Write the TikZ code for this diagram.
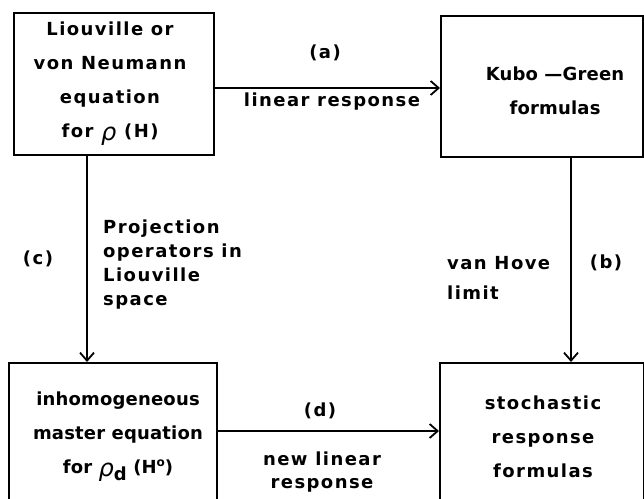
\documentclass[tikz,border=0pt]{standalone}
\usepackage{fontspec}
\setmainfont{DejaVu Sans}
\newfontfamily\lettering{DejaVu Sans Bold}[LetterSpace=8]
\newfontfamily\tightlettering{DejaVu Sans Bold}[LetterSpace=1]
\newfontfamily\rhofont{DejaVu Sans}
\newcommand{\myrho}{{\rhofont\itshape\fontsize{24}{24}\selectfont ρ}}
\usetikzlibrary{arrows.meta,calc}
\tikzset{
  box/.style={draw, line width=1.8pt, inner sep=0pt, anchor=north west},
  lbl/.style={font=\lettering\fontsize{18}{34}\selectfont, inner sep=0pt, align=center},
  tight/.style={font=\tightlettering\fontsize{18}{34}\selectfont},
  side/.style={font=\lettering\fontsize{18}{24}\selectfont, inner sep=0pt, align=left, anchor=west},
  arr/.style={line width=1.8pt, -{Straight Barb[length=8pt,width=14pt,line width=1.8pt]}}
}
\begin{document}
\begin{tikzpicture}[x=1pt,y=1pt]
\useasboundingbox (0,0) rectangle (644,-498);
\clip (0,0) rectangle (644,-498);
% boxes
\node[box, minimum width=200pt, minimum height=142pt] (b1) at (13,-12) {};
\node[box, minimum width=202pt, minimum height=141pt] (b2) at (440,-15) {};
\node[box, minimum width=208pt, minimum height=160pt] (b3) at (8,-362) {};
\node[box, minimum width=204pt, minimum height=160pt] (b4) at (439,-362) {};
% box texts
\node[lbl] (t1) at (110,-84) {Liouville or\\von Neumann\\equation\\for \raisebox{-3pt}{\myrho} (H)};
\node[lbl, tight] (t2) at (555,-91) {Kubo —Green\\formulas};
\node[lbl, tight] (t3) at (118,-437) {inhomogeneous\\master equation\\for \raisebox{-3pt}{\myrho}\raisebox{-7pt}{d} (H\raisebox{7pt}{\fontsize{12}{12}\selectfont o})};
\node[lbl] (t4) at (543,-437) {stochastic\\response\\formulas};
% connectors
\draw[arr] ($(b1.north east)+(0,-76)$) coordinate (a0) -- (a0 -| b2.west);
\draw[arr] ($(b3.north east)+(0,-69)$) coordinate (d0) -- (d0 -| b4.west);
\draw[arr] ($(b1.south west)+(74,0)$) coordinate (c0) -- (c0 |- b3.north);
\draw[arr] ($(b2.south west)+(131,0)$) coordinate (e0) -- (e0 |- b4.north);
% labels
\node[lbl] (la) at (325,-53) {(a)};
\node[lbl] (lr) at (332,-102) {linear response};
\node[lbl] (ld) at (320,-411) {(d)};
\node[lbl, font=\lettering\fontsize{18}{23}\selectfont] (ln) at (322,-472) {new linear\\response};
\node[lbl] (lc) at (38,-259) {(c)};
\node[side] (lp) at (103,-265) {Projection\\operators in\\Liouville\\space};
\node[side, font=\lettering\fontsize{18}{30}\selectfont] (lv) at (447,-278) {van Hove\\limit};
\node[lbl] (lb) at (606,-263) {(b)};
\end{tikzpicture}
\end{document}
